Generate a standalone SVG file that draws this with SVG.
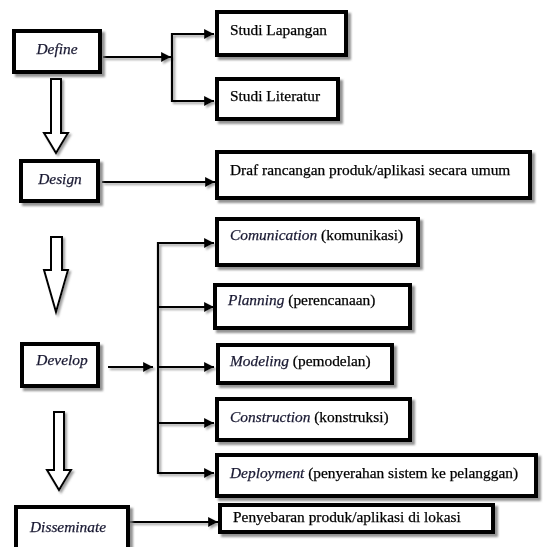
<svg xmlns="http://www.w3.org/2000/svg" width="544" height="547" viewBox="0 0 544 547">
<style>
.box{fill:#fff;stroke:#000;stroke-width:4}
.t{font-family:"Liberation Serif",serif;font-size:15.4px;fill:#000;stroke:#000;stroke-width:0.25}
.i{font-style:italic;fill:#1a1a33;stroke:#1a1a33}
.c{fill:none;stroke:#000;stroke-width:2.2}
.oa{fill:#fff;stroke:#000;stroke-width:2}
</style>
<defs>
<filter id="sh" x="-10%" y="-10%" width="130%" height="140%">
<feDropShadow dx="3" dy="3" stdDeviation="1" flood-color="#777" flood-opacity="0.8"/>
</filter>
<filter id="sh2" x="-10%" y="-10%" width="130%" height="130%">
<feDropShadow dx="2" dy="2" stdDeviation="0.8" flood-color="#888" flood-opacity="0.8"/>
</filter>
<marker id="ah" viewBox="0 0 10 10" refX="10" refY="5" markerWidth="4.5" markerHeight="4.5" markerUnits="strokeWidth" orient="auto">
<path d="M0,0 L10,5 L0,10 z" fill="#000"/>
</marker>
</defs>
<g id="connectors" filter="url(#sh2)">
<path class="c" d="M103,57 H171" marker-end="url(#ah)"/>
<path class="c" d="M214,34 H172 V101 H214" marker-end="url(#ah)"/>
<path class="c" d="M172,34 H214" marker-end="url(#ah)"/>
<path class="c" d="M102,182 H215" marker-end="url(#ah)"/>
<path class="c" d="M108,367 H153" marker-end="url(#ah)"/>
<path class="c" d="M214,243 H158 V473 H214" marker-end="url(#ah)"/>
<path class="c" d="M158,243 H214" marker-end="url(#ah)"/>
<path class="c" d="M158,307 H214" marker-end="url(#ah)"/>
<path class="c" d="M158,367 H214" marker-end="url(#ah)"/>
<path class="c" d="M158,423 H214" marker-end="url(#ah)"/>
<path class="c" d="M130,522 H218" marker-end="url(#ah)"/>
<polygon class="oa" points="51,79 61,79 61,133 68,133 56,153 44,133 51,133"/>
<polygon class="oa" points="51,237 62,237 62,270 68,270 56,312 44,270 51,270"/>
<polygon class="oa" points="54,412 64,412 64,470 71,470 59,490 47,470 54,470"/>
</g>
<g id="define" filter="url(#sh)"><rect class="box" x="14" y="31" width="86" height="41"/><text class="t i" x="57" y="54" text-anchor="middle">Define</text></g>
<g id="studi-lapangan" filter="url(#sh)"><rect class="box" x="217" y="12" width="129" height="43"/><text class="t" x="230" y="35">Studi Lapangan</text></g>
<g id="studi-literatur" filter="url(#sh)"><rect class="box" x="217" y="79" width="121" height="40"/><text class="t" x="230" y="101">Studi Literatur</text></g>
<g id="design" filter="url(#sh)"><rect class="box" x="21" y="161" width="77" height="40"/><text class="t i" x="60" y="184" text-anchor="middle">Design</text></g>
<g id="draf" filter="url(#sh)"><rect class="box" x="217" y="152" width="313" height="46"/><text class="t" x="230" y="175">Draf rancangan produk/aplikasi secara umum</text></g>
<g id="develop" filter="url(#sh)"><rect class="box" x="22" y="344" width="76" height="42"/><text class="t i" x="62" y="365" text-anchor="middle">Develop</text></g>
<g id="comunication" filter="url(#sh)"><rect class="box" x="217" y="219" width="201" height="46"/><text class="t" x="230" y="240"><tspan class="i">Comunication</tspan> (komunikasi)</text></g>
<g id="planning" filter="url(#sh)"><rect class="box" x="215" y="285" width="195" height="43"/><text class="t" x="228" y="305"><tspan class="i">Planning</tspan> (perencanaan)</text></g>
<g id="modeling" filter="url(#sh)"><rect class="box" x="218" y="345" width="174" height="38"/><text class="t" x="230" y="366"><tspan class="i">Modeling</tspan> (pemodelan)</text></g>
<g id="construction" filter="url(#sh)"><rect class="box" x="217" y="399" width="193" height="41"/><text class="t" x="230" y="422"><tspan class="i">Construction</tspan> (konstruksi)</text></g>
<g id="deployment" filter="url(#sh)"><rect class="box" x="217" y="455" width="319" height="41"/><text class="t" x="230" y="478"><tspan class="i">Deployment</tspan> (penyerahan sistem ke pelanggan)</text></g>
<g id="penyebaran" filter="url(#sh)"><rect class="box" x="220" y="505" width="273" height="27"/><text class="t" x="233" y="522">Penyebaran produk/aplikasi di lokasi</text></g>
<g id="disseminate" filter="url(#sh)"><rect class="box" x="16" y="507" width="112" height="50"/><text class="t i" x="30" y="532">Disseminate</text></g>
</svg>
